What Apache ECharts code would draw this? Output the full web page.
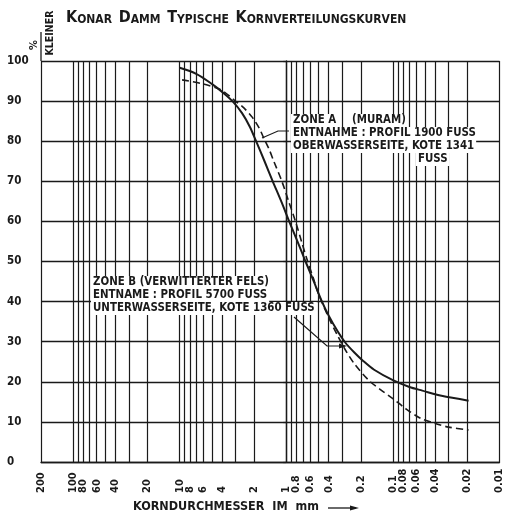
<!DOCTYPE html>
<html>
<head>
<meta charset="utf-8">
<script src="https://cdn.jsdelivr.net/npm/echarts@6/dist/echarts.min.js"></script>
<style>
  html, body { margin: 0; padding: 0; background: #fff; }
  #main { width: 505px; height: 517px; }
</style>
</head>
<body>
<div id="main"></div>
<script>
// Korndurchmesser (mm) und Prozent kleiner
const zoneASize = [10, 7, 5, 4, 3.2, 2.6, 2.2, 1.92, 1.6, 1.34, 1.1, 0.94, 0.8, 0.66, 0.55, 0.466,
  0.4, 0.33, 0.28, 0.23, 0.19, 0.15, 0.1, 0.07, 0.053, 0.035, 0.0195];
const zoneAPct = [98.3, 96.8, 94.3, 92.3, 90, 87, 83.6, 80, 75, 70, 64.6, 60, 55.5, 50, 44.9, 40.2,
  36.5, 32.6, 29.8, 27.3, 25.2, 23, 20.4, 18.7, 17.8, 16.5, 15.3];
const zoneBSize = [9.5, 6.3, 4.1, 3.0, 2.5, 2.09, 1.8, 1.62, 1.45, 1.31, 1.1, 0.95, 0.82, 0.72, 0.63,
  0.56, 0.5, 0.4, 0.33, 0.28, 0.23, 0.166, 0.13, 0.1, 0.075, 0.055, 0.04, 0.03, 0.0195];
const zoneBPct = [95.3, 94.4, 92.8, 90, 88.3, 86, 83.3, 80.7, 78, 75, 70, 65, 60, 55, 50,
  46, 42, 36, 31.5, 28, 24.5, 20.2, 18, 15.8, 13.2, 10.9, 9.6, 8.7, 8];

// Gitterlinien und Beschriftung der x-Achse
const gridSizes = [200, 100, 90, 80, 70, 60, 50, 40, 30, 20, 10, 9, 8, 7, 6, 5, 4, 3, 2, 1,
  0.9, 0.8, 0.7, 0.6, 0.5, 0.4, 0.3, 0.2, 0.1, 0.09, 0.08, 0.07, 0.06, 0.05, 0.04, 0.03, 0.02, 0.01];
const labelSizes = [200, 100, 80, 60, 40, 20, 10, 8, 6, 4, 2, 1, 0.8, 0.6, 0.4, 0.2, 0.1, 0.08, 0.06, 0.04, 0.02, 0.01];
const labelText = ['200', '100', '80', '60', '40', '20', '10', '8', '6', '4', '2', '1',
  '0.8', '0.6', '0.4', '0.2', '0.1', '0.08', '0.06', '0.04', '0.02', '0.01'];

const F = "'DejaVu Sans Condensed', 'DejaVu Sans', sans-serif";
const INK = '#1a1a1a';
const lg = (v) => Math.log10(v);

function pairs(sizes, pcts) {
  return sizes.map((s, i) => [lg(s), pcts[i]]);
}

function note(x, y, text) {
  return {
    type: 'text', x: x, y: y, z: 50,
    style: {
      text: text, fontFamily: F, fontWeight: 'bold', fontSize: 11.4, fill: INK,
      align: 'left', verticalAlign: 'top', backgroundColor: '#fff', padding: [1, 2]
    }
  };
}

let myChart = echarts.init(document.getElementById('main'));
myChart.setOption({
  animation: false,
  backgroundColor: '#fff',
  grid: { left: 41, right: 1, top: 61, bottom: 55 },
  xAxis: {
    type: 'value',
    min: lg(0.01),
    max: lg(200),
    inverse: true,
    axisLine: { show: true, lineStyle: { color: INK, width: 1.4 } },
    axisTick: { show: false, customValues: gridSizes.map(lg) },
    splitLine: { show: true, lineStyle: { color: INK, width: 1.2 } },
    axisLabel: {
      customValues: labelSizes.map(lg),
      rotate: 90,
      align: 'left',
      verticalAlign: 'middle',
      margin: 31,
      hideOverlap: false,
      showMinLabel: true,
      showMaxLabel: true,
      fontFamily: F,
      fontWeight: 'bold',
      fontSize: 11,
      color: INK,
      formatter: function (v) {
        const i = labelSizes.findIndex((s) => Math.abs(lg(s) - v) < 1e-6);
        return i >= 0 ? labelText[i] : '';
      }
    }
  },
  yAxis: {
    type: 'value',
    min: 0,
    max: 100,
    interval: 10,
    axisLine: { show: true, lineStyle: { color: INK, width: 1.4 } },
    axisTick: { show: true, length: 3, lineStyle: { color: INK, width: 1.2 } },
    splitLine: { show: true, lineStyle: { color: INK, width: 1.4 } },
    axisLabel: {
      align: 'left',
      margin: 34,
      fontFamily: F,
      fontWeight: 'bold',
      fontSize: 11.5,
      color: INK
    }
  },
  series: [
    {
      name: 'Zone A',
      type: 'line',
      data: pairs(zoneASize, zoneAPct),
      showSymbol: false,
      smooth: 0.3,
      z: 5,
      lineStyle: { color: INK, width: 2 }
    },
    {
      name: 'Zone B',
      type: 'line',
      data: pairs(zoneBSize, zoneBPct),
      showSymbol: false,
      smooth: 0.3,
      z: 5,
      lineStyle: { color: INK, width: 1.6, type: [7, 4] }
    }
  ],
  graphic: [
    {
      type: 'text', x: 66, y: 8, z: 50,
      style: {
        text: '{b|K}{s|ONAR}  {b|D}{s|AMM}  {b|T}{s|YPISCHE}  {b|K}{s|ORNVERTEILUNGSKURVEN}',
        fill: INK,
        rich: {
          b: { fontFamily: F, fontWeight: 'bold', fontSize: 16, lineHeight: 18, verticalAlign: 'bottom', fill: INK },
          s: { fontFamily: F, fontWeight: 'bold', fontSize: 12, lineHeight: 18, verticalAlign: 'bottom', fill: INK }
        }
      }
    },
    // % KLEINER
    { type: 'line', z: 50, shape: { x1: 41, y1: 32, x2: 41, y2: 61 }, style: { stroke: INK, lineWidth: 1.3 } },
    {
      type: 'text', x: 34, y: 45, rotation: Math.PI / 2, z: 50,
      style: { text: '%', fontFamily: F, fontWeight: 'bold', fontSize: 11, fill: INK, align: 'center', verticalAlign: 'middle' }
    },
    {
      type: 'text', x: 50, y: 33, rotation: Math.PI / 2, z: 50,
      style: { text: 'KLEINER', fontFamily: F, fontWeight: 'bold', fontSize: 10.5, fill: INK, align: 'center', verticalAlign: 'middle' }
    },
    // Zone A
    note(291, 114, 'ZONE A'),
    note(350, 114, '(MURAM)'),
    note(291, 127, 'ENTNAHME : PROFIL 1900 FUSS'),
    note(291, 140, 'OBERWASSERSEITE, KOTE 1341'),
    note(416, 153, 'FUSS'),
    { type: 'polyline', z: 50, shape: { points: [[289, 131], [278, 131], [262, 138]] }, style: { stroke: INK, lineWidth: 1.2, fill: null } },
    // Zone B
    note(91, 276, 'ZONE B (VERWITTERTER FELS)'),
    note(91, 289, 'ENTNAME : PROFIL 5700 FUSS'),
    note(91, 302, 'UNTERWASSERSEITE, KOTE 1360 FUSS'),
    { type: 'polyline', z: 50, shape: { points: [[294, 317], [327, 346], [345, 346]] }, style: { stroke: INK, lineWidth: 1.2, fill: null } },
    { type: 'polygon', z: 50, shape: { points: [[339, 343.5], [347, 346], [339, 348.5]] }, style: { fill: INK } },
    // Achsentitel
    {
      type: 'text', x: 133, y: 500, z: 50,
      style: { text: 'KORNDURCHMESSER  IM  mm', fontFamily: F, fontWeight: 'bold', fontSize: 12.5, fill: INK, align: 'left', verticalAlign: 'top' }
    },
    { type: 'line', z: 50, shape: { x1: 328, y1: 508, x2: 356, y2: 508 }, style: { stroke: INK, lineWidth: 1.3 } },
    { type: 'polygon', z: 50, shape: { points: [[350, 505.5], [359, 508], [350, 510.5]] }, style: { fill: INK } }
  ]
});
</script>
</body>
</html>
